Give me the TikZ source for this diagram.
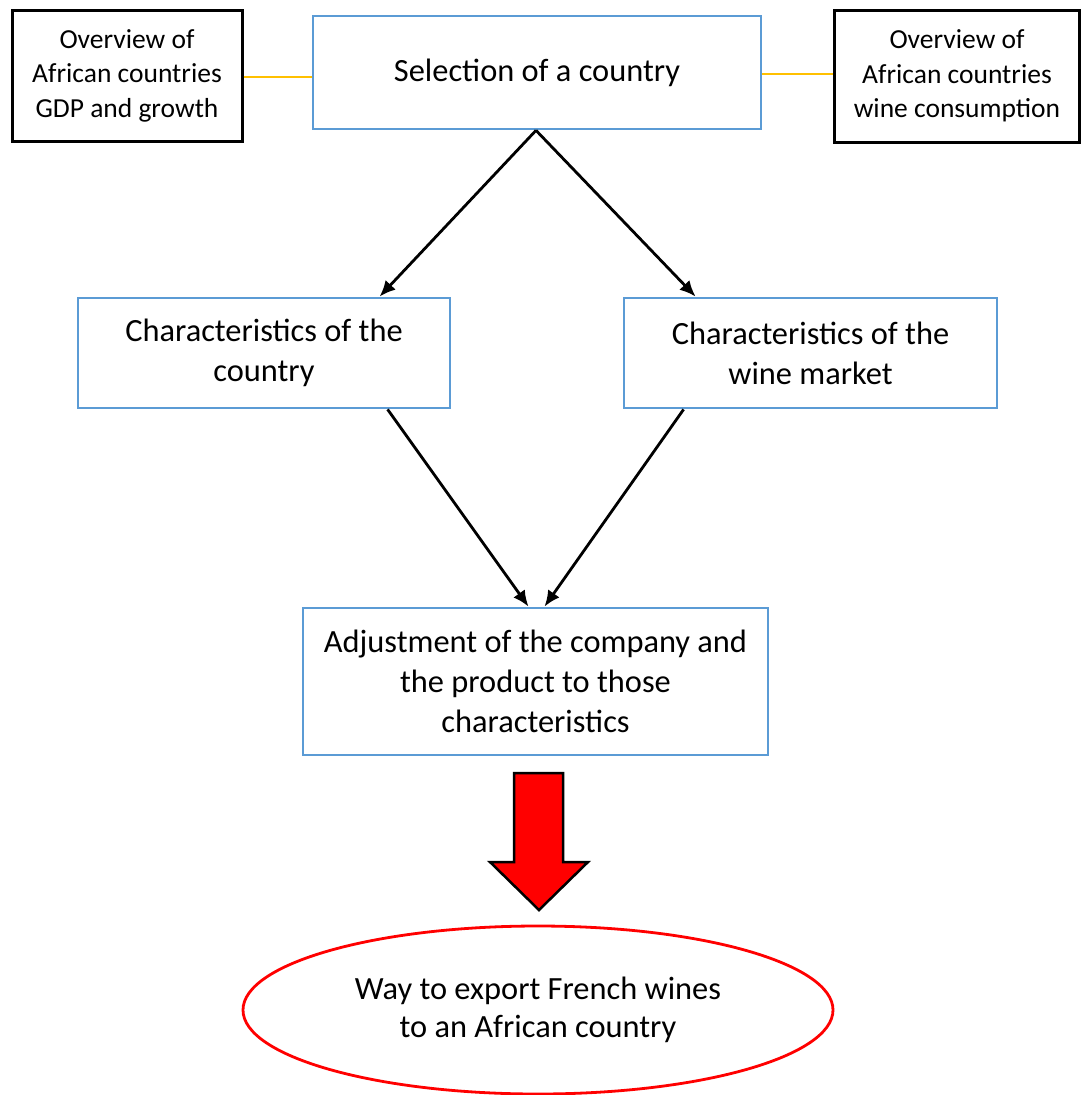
\documentclass[tikz,border=0pt]{standalone}
\usepackage{fontspec}
\setmainfont{Carlito}
\usetikzlibrary{arrows.meta,shapes.geometric,calc}
\definecolor{bluebox}{HTML}{5B9BD5}
\definecolor{yel}{HTML}{FFC000}
\begin{document}
\begin{tikzpicture}[x=1pt,y=-1pt,
  bluebox/.style={draw=bluebox,line width=2.8pt,fill=white,align=center,inner sep=0pt,font=\fontsize{32.4}{40}\selectfont},
  blackbox/.style={draw=black,line width=3pt,fill=white,align=center,inner sep=0pt,font=\fontsize{27.5}{34.5}\selectfont},
  conn/.style={line width=2.8pt,-{Latex[length=16pt,width=14pt]}},
  link/.style={draw=yel,line width=1.3pt}]
\useasboundingbox (0,0) rectangle (1082,1095);
\node[blackbox,minimum width=230pt,minimum height=131pt] (gdp) at (127,75.5) {Overview of\\African countries\\GDP and growth};
\node[bluebox,minimum width=448pt,minimum height=113pt] (sel) at (537,72.5) {Selection of a country};
\node[blackbox,minimum width=245pt,minimum height=132pt] (wine) at (957,76) {Overview of\\African countries\\wine consumption};
\node[bluebox,minimum width=372pt,minimum height=110pt] (cc) at (264,353) {Characteristics of the\\country};
\node[bluebox,minimum width=373pt,minimum height=110pt] (cw) at (810.5,353) {Characteristics of the\\wine market};
\node[bluebox,minimum width=465pt,minimum height=147pt] (adj) at (535.5,681.5) {Adjustment of the company and\\the product to those\\characteristics};
\node[draw=red,line width=2.8pt,ellipse,minimum width=590pt,minimum height=168pt,inner sep=0pt,align=center,font=\fontsize{32.4}{38}\selectfont] (way) at (538,1010) {Way to export French wines\\to an African country};
\draw[link] (gdp.east |- 0,77) -- (sel.west |- 0,77);
\draw[link] (sel.east |- 0,74) -- (wine.west |- 0,74);
\draw[conn] ([xshift=-1pt]sel.south) -- ([xshift=303pt]cc.north west);
\draw[conn] ([xshift=-1pt]sel.south) -- ([xshift=73pt]cw.north west);
\draw[conn] ([xshift=311pt]cc.south west) -- ([xshift=-7pt]adj.north);
\draw[conn] ([xshift=61pt]cw.south west) -- ([xshift=9pt]adj.north);
\draw[fill=red,line width=2.5pt,line join=miter] (514,773) -- (563,773) -- (563,862) -- (588,862) -- (539,910) -- (490,862) -- (514,862) -- cycle;
\end{tikzpicture}
\end{document}
